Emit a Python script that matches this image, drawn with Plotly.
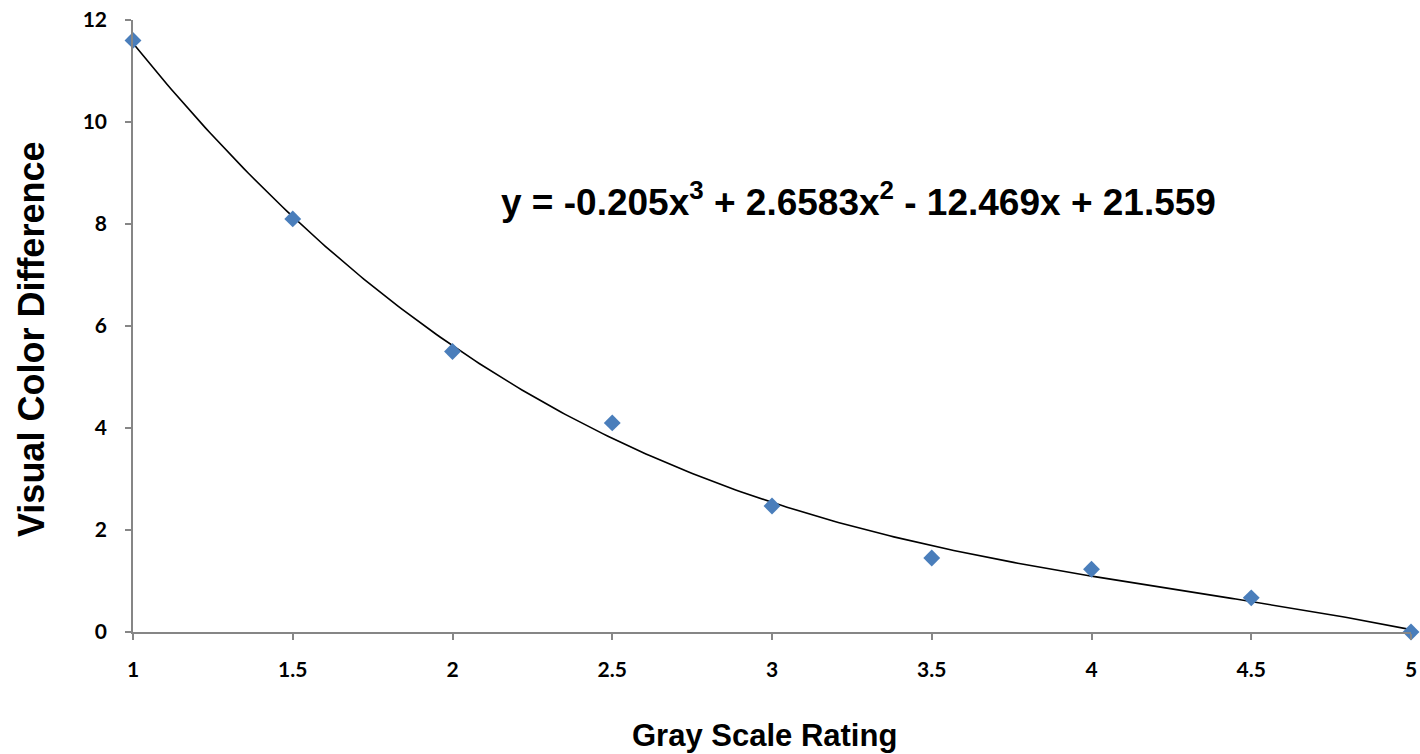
import numpy as np
import plotly.graph_objects as go

gray_scale = [1, 1.5, 2, 2.5, 3, 3.5, 4, 4.5, 5]
visual_diff = [11.6, 8.1, 5.5, 4.1, 2.47, 1.45, 1.23, 0.67, 0.0]
trend_coeffs = [-0.205, 2.6583, -12.469, 21.559]  # cubic trendline shown on chart
x_ticks = [1, 1.5, 2, 2.5, 3, 3.5, 4, 4.5, 5]
y_ticks = [0, 2, 4, 6, 8, 10, 12]

xs = np.linspace(1, 5, 300)
ys = np.polyval(trend_coeffs, xs)

fig = go.Figure()
fig.add_trace(go.Scatter(x=xs, y=ys, mode="lines",
                         line=dict(color="black", width=1.6), showlegend=False,
                         hoverinfo="skip"))
fig.add_trace(go.Scatter(x=gray_scale, y=visual_diff, mode="markers",
                         marker=dict(symbol="diamond", size=13, color="#4A7EBB"),
                         showlegend=False, cliponaxis=False))

axis_common = dict(showgrid=False, zeroline=False, showline=True, automargin=False,
                   linecolor="#868686", linewidth=1.5, ticks="outside",
                   ticklen=6, tickcolor="#868686", tickwidth=1.5,
                   tickfont=dict(family="Lato", size=21, color="black", weight="bold"))

fig.update_xaxes(range=[1, 5], tickvals=x_ticks,
                 ticktext=[str(v) for v in x_ticks], ticklabelstandoff=12,
                 **axis_common)
fig.update_yaxes(range=[0, 12], tickvals=y_ticks,
                 ticktext=[str(v) for v in y_ticks], ticklabelstandoff=14,
                 **axis_common)

fig.add_annotation(x=3.272, y=8.49, xref="x", yref="y", showarrow=False,
                   xanchor="center", yanchor="middle",
                   text="<b>y = -0.205x<sup>3</sup> + 2.6583x<sup>2</sup> - 12.469x + 21.559</b>",
                   font=dict(family="Liberation Sans", size=37, color="black"))
fig.add_annotation(x=764, y=754 - 735, xref="paper", yref="paper", showarrow=False,
                   xanchor="center", yanchor="middle",
                   text="<b>Gray Scale Rating</b>",
                   font=dict(family="Liberation Sans", size=31, color="black"))
fig.add_annotation(x=32, y=754 - 340, xref="paper", yref="paper", showarrow=False,
                   xanchor="center", yanchor="middle",
                   text="<b>Visual Color Difference</b>", textangle=-90,
                   font=dict(family="Liberation Sans", size=36, color="black"))

fig.update_layout(width=1420, height=754, plot_bgcolor="white", paper_bgcolor="white",
                  margin=dict(l=133, r=9, t=20, b=122))

# convert pixel positions of the axis-title annotations to paper coordinates
pw, ph = 1420 - 133 - 9, 754 - 20 - 122
for ann in fig.layout.annotations[1:]:
    ann.x = (ann.x - 133) / pw
    ann.y = (ann.y - 122) / ph

fig.write_html("out.html", config={"displayModeBar": False},
               post_script="document.body.style.margin='0';document.body.style.overflow='hidden';")
